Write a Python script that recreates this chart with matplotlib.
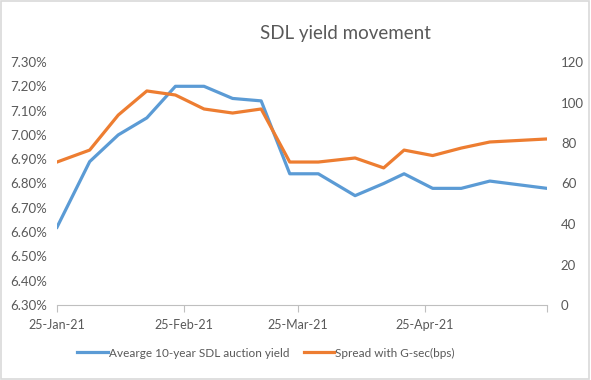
import numpy as np
import pandas as pd
import matplotlib
matplotlib.use('Agg')
import matplotlib.pyplot as plt
from matplotlib.patches import Rectangle

plt.rcParams['font.family'] = ['Lato', 'DejaVu Sans']

# auction dates and values
dates = pd.to_datetime([
    '2021-01-25', '2021-02-02', '2021-02-09', '2021-02-16', '2021-02-23',
    '2021-03-02', '2021-03-09', '2021-03-16', '2021-03-23', '2021-03-30',
    '2021-04-08', '2021-04-15', '2021-04-20', '2021-04-27', '2021-05-04',
    '2021-05-11', '2021-05-25'])
sdl_yield = [6.62, 6.89, 7.00, 7.07, 7.20, 7.20, 7.15, 7.14, 6.84, 6.84,
             6.75, 6.80, 6.84, 6.78, 6.78, 6.81, 6.78]
spread_bps = [70.6, 76.5, 93.8, 105.7, 103.7, 96.8, 94.8, 96.8, 70.6, 70.6,
              72.6, 67.7, 76.5, 73.8, 77.5, 80.5, 82.0]

x_ticks = pd.to_datetime(['2021-01-25', '2021-02-25', '2021-03-25',
                          '2021-04-25', '2021-05-25'])
x_ticklabels = ['25-Jan-21', '25-Feb-21', '25-Mar-21', '25-Apr-21', '']
left_ticks = np.round(np.arange(6.30, 7.301, 0.10), 2)
right_ticks = [0, 20, 40, 60, 80, 100, 120]

BLUE = '#5B9BD5'
ORANGE = '#ED7D31'
TXT = '#595959'
AXC = '#BFBFBF'

fig = plt.figure(figsize=(5.91, 3.80), dpi=100)
ax = fig.add_axes([57 / 591, 1 - 305 / 380, 490 / 591, 243 / 380])
ax2 = ax.twinx()

ax.plot(dates, sdl_yield, color=BLUE, lw=2.3, label='Avearge 10-year SDL auction yield',
        solid_joinstyle='round', zorder=3)
ax2.plot(dates, spread_bps, color=ORANGE, lw=2.3, label='Spread with G-sec(bps)',
         solid_joinstyle='round', zorder=3)

ax.set_xlim(x_ticks[0], x_ticks[-1])
ax.set_ylim(6.30, 7.30)
ax2.set_ylim(0, 120)

ax.set_xticks(x_ticks)
ax.set_xticklabels(x_ticklabels)
ax.set_yticks(left_ticks)
ax.set_yticklabels([f'{v:.2f}%' for v in left_ticks])
ax2.set_yticks(right_ticks)

for a in (ax, ax2):
    for s in a.spines.values():
        s.set_visible(False)
ax.spines['bottom'].set_visible(True)
ax.spines['bottom'].set_color(AXC)

ax.tick_params(axis='x', colors=AXC, labelcolor=TXT, labelsize=9, length=5,
               direction='out', pad=5)
ax.tick_params(axis='y', length=0, labelcolor=TXT, labelsize=9.5, pad=7)
ax2.tick_params(axis='y', length=0, labelcolor=TXT, labelsize=9.5, pad=10)

fig.text(0.585, 0.913, 'SDL yield movement', ha='center', va='center',
         fontsize=13.5, color=TXT)

h1, l1 = ax.get_legend_handles_labels()
h2, l2 = ax2.get_legend_handles_labels()
fig.legend(h1 + h2, l1 + l2, loc='center', bbox_to_anchor=(0.45, 0.071), ncol=2,
           frameon=False, fontsize=8.5, labelcolor=TXT, handlelength=2.6,
           handletextpad=0.1, columnspacing=1.2)

# chart border
fig.patches.append(Rectangle((0.002, 0.003), 0.994, 0.994, transform=fig.transFigure,
                             fill=False, edgecolor='#D9D9D9', lw=1.2))

fig.savefig('out.png', dpi=100)
